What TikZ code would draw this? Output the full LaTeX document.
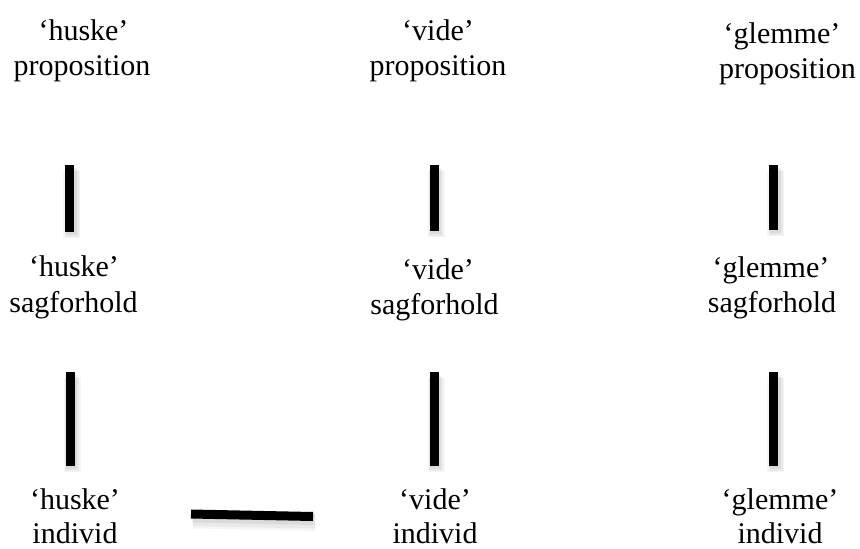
\documentclass[tikz,border=0pt]{standalone}
\usepackage{fontspec}
\setmainfont{Liberation Serif}
\begin{document}
\begin{tikzpicture}[x=1pt,y=-1pt,
  lbl/.style={anchor=base,inner sep=0pt,font=\fontsize{30}{36}\selectfont},
  bar/.style={line width=9pt,line cap=butt,black,
    preaction={draw=black,opacity=0.04,line width=17pt,transform canvas={shift={(2pt,-6pt)}}},
    preaction={draw=black,opacity=0.05,line width=14pt,transform canvas={shift={(2pt,-5pt)}}},
    preaction={draw=black,opacity=0.06,line width=11pt,transform canvas={shift={(1.5pt,-3pt)}}}}]
\useasboundingbox (0,0) rectangle (860,549);
% row 1
\node[lbl] (h1a) at (83.5,40) {‘huske’};
\node[lbl] (h1b) at (82,75) {proposition};
\node[lbl] (v1a) at (438,40) {‘vide’};
\node[lbl] (v1b) at (438,75) {proposition};
\node[lbl] (g1a) at (782,43) {‘glemme’};
\node[lbl] (g1b) at (787.5,78) {proposition};
% row 2
\node[lbl] (h2a) at (74,276) {‘huske’};
\node[lbl] (h2b) at (73.5,312) {sagforhold};
\node[lbl] (v2a) at (438,279) {‘vide’};
\node[lbl] (v2b) at (434.5,314) {sagforhold};
\node[lbl] (g2a) at (771,277) {‘glemme’};
\node[lbl] (g2b) at (772,312) {sagforhold};
% row 3
\node[lbl] (h3a) at (75,509) {‘huske’};
\node[lbl] (h3b) at (75,543) {individ};
\node[lbl] (v3a) at (435,509) {‘vide’};
\node[lbl] (v3b) at (435,543) {individ};
\node[lbl] (g3a) at (780,509) {‘glemme’};
\node[lbl] (g3b) at (780,543) {individ};
% bar end points
\coordinate (a1) at (69.5,165); \coordinate (a2) at (69.5,232);
\coordinate (b1) at (434,165);  \coordinate (b2) at (434,231);
\coordinate (c1) at (773.5,165); \coordinate (c2) at (773.5,230);
\coordinate (d1) at (70,372);   \coordinate (d2) at (70,466);
\coordinate (e1) at (434,372);  \coordinate (e2) at (434,466);
\coordinate (f1) at (773.5,372); \coordinate (f2) at (773.5,466);
\coordinate (k1) at (191,514);  \coordinate (k2) at (313,516.5);
\draw[bar] (a1) -- (a2);
\draw[bar] (b1) -- (b2);
\draw[bar] (c1) -- (c2);
\draw[bar] (d1) -- (d2);
\draw[bar] (e1) -- (e2);
\draw[bar] (f1) -- (f2);
\draw[bar] (k1) -- (k2);
\end{tikzpicture}
\end{document}
